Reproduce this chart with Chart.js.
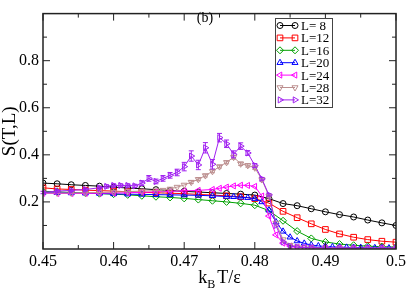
<!DOCTYPE html>
<html>
<head>
<meta charset="utf-8">
<script src="https://cdn.jsdelivr.net/npm/chart.js@4/dist/chart.umd.min.js"></script>
<style>
  html, body { margin: 0; padding: 0; background: #fff; }
</style>
</head>
<body>
<canvas id="grafico" width="409" height="290"></canvas>
<script>
const etiquetas = ["L= 8", "L=12", "L=16", "L=20", "L=24", "L=28", "L=32"];
const xTicks = [0.45, 0.46, 0.47, 0.48, 0.49, 0.5];
const xMenores = [0.455, 0.465, 0.475, 0.485, 0.495];
const yTicks = [0.2, 0.4, 0.6, 0.8];
const yMenores = [0.1, 0.3, 0.5, 0.7, 0.9];

const T8 = [0.450,0.452,0.454,0.456,0.458,0.460,0.462,0.464,0.466,0.468,0.470,0.472,0.474,0.476,0.478,0.480,0.482,0.484,0.486,0.488,0.490,0.492,0.494,0.496,0.498,0.500];
const S8 = [0.280,0.277,0.273,0.270,0.267,0.263,0.259,0.256,0.252,0.248,0.245,0.242,0.239,0.236,0.233,0.229,0.214,0.193,0.184,0.171,0.158,0.146,0.136,0.123,0.111,0.100];

const T12 = T8;
const S12 = [0.260,0.255,0.253,0.250,0.248,0.246,0.243,0.241,0.239,0.237,0.235,0.232,0.229,0.226,0.222,0.214,0.195,0.160,0.133,0.107,0.083,0.064,0.050,0.040,0.033,0.029];

const T16 = T8;
const S16 = [0.245,0.243,0.240,0.238,0.235,0.233,0.230,0.226,0.222,0.219,0.215,0.210,0.205,0.200,0.194,0.186,0.163,0.120,0.076,0.045,0.030,0.021,0.016,0.012,0.010,0.008];

const T20 = [0.450,0.452,0.454,0.456,0.458,0.460,0.462,0.464,0.466,0.468,0.470,0.472,0.474,0.476,0.477,0.478,0.479,0.480,0.481,0.482,0.483,0.484,0.485,0.486,0.487,0.488,0.489,0.490,0.491,0.492,0.493,0.494,0.495,0.496,0.497,0.498,0.499,0.500];
const S20 = [0.240,0.239,0.238,0.237,0.236,0.234,0.233,0.232,0.231,0.230,0.229,0.228,0.226,0.223,0.222,0.220,0.218,0.214,0.200,0.165,0.115,0.075,0.050,0.034,0.024,0.017,0.013,0.011,0.009,0.008,0.007,0.006,0.006,0.005,0.005,0.005,0.004,0.004];

const T24 = [0.450,0.452,0.454,0.456,0.458,0.460,0.462,0.464,0.466,0.468,0.470,0.472,0.474,0.475,0.476,0.477,0.478,0.479,0.480,0.481,0.482,0.483,0.484,0.485,0.486,0.487,0.488,0.490,0.492,0.494,0.496,0.498,0.500];
const S24 = [0.237,0.236,0.236,0.236,0.237,0.238,0.239,0.241,0.243,0.245,0.247,0.249,0.253,0.258,0.263,0.268,0.271,0.270,0.266,0.225,0.140,0.060,0.025,0.013,0.008,0.006,0.005,0.004,0.004,0.003,0.003,0.003,0.003];

const T28 = [0.450,0.452,0.454,0.456,0.458,0.460,0.462,0.464,0.466,0.467,0.468,0.469,0.470,0.471,0.472,0.473,0.474,0.475,0.476,0.477,0.478,0.479,0.480,0.481,0.482,0.483,0.484,0.485,0.486,0.487,0.488,0.490,0.492,0.494,0.496,0.498,0.500];
const S28 = [0.238,0.238,0.238,0.239,0.240,0.242,0.244,0.246,0.248,0.250,0.255,0.263,0.272,0.284,0.296,0.312,0.330,0.350,0.368,0.390,0.362,0.355,0.345,0.295,0.225,0.110,0.040,0.016,0.009,0.006,0.005,0.004,0.004,0.003,0.003,0.003,0.003];
const E28 = [0.003,0.003,0.003,0.003,0.003,0.003,0.003,0.003,0.003,0.004,0.004,0.004,0.004,0.006,0.006,0.006,0.006,0.006,0.006,0.008,0.007,0.007,0.007,0.006,0.005,0.002,0.002,0.002,0.002,0.002,0.002,0.002,0.002,0.002,0.002,0.002,0.002];

const T32 = [0.450,0.452,0.454,0.456,0.458,0.459,0.460,0.461,0.462,0.463,0.464,0.465,0.466,0.467,0.468,0.469,0.470,0.471,0.472,0.473,0.474,0.475,0.476,0.477,0.478,0.479,0.480,0.481,0.482,0.483,0.484,0.485,0.486,0.487,0.488,0.490,0.492,0.494,0.496,0.498,0.500];
const S32 = [0.240,0.246,0.249,0.253,0.260,0.266,0.270,0.270,0.270,0.268,0.280,0.300,0.287,0.300,0.313,0.325,0.350,0.395,0.357,0.430,0.360,0.473,0.447,0.402,0.437,0.408,0.355,0.298,0.230,0.100,0.030,0.012,0.008,0.006,0.005,0.005,0.004,0.004,0.004,0.004,0.004];
const E32 = [0.005,0.005,0.005,0.005,0.005,0.007,0.007,0.007,0.007,0.007,0.010,0.012,0.010,0.012,0.012,0.014,0.018,0.022,0.020,0.022,0.020,0.018,0.016,0.015,0.014,0.010,0.008,0.006,0.005,0.004,0.003,0.003,0.003,0.003,0.003,0.002,0.002,0.002,0.002,0.002,0.002];

// Estilos
const colores = ["#000000", "#ff0000", "#00a000", "#0000ff", "#ff00ff", "#bc8f8f", "#a020f0"];
const marcadores = ["circle", "rect", "rectRot", "triangle", "triangle", "triangle", "triangle"];
const rotaciones = [0, 0, 0, 0, -90, 180, 90];
const radios = [3, 4, 3.5, 3.5, 3.5, 3.5, 3.5];

const series = [[T8, S8], [T12, S12], [T16, S16], [T20, S20], [T24, S24], [T28, S28, E28], [T32, S32, E32]];

const datasets = series.map((s, i) => ({
  label: etiquetas[i],
  data: s[0].map((t, k) => ({ x: t, y: s[1][k] })),
  errores: s[2] || null,
  borderColor: colores[i],
  borderWidth: 1,
  pointStyle: marcadores[i],
  pointRotation: rotaciones[i],
  pointRadius: radios[i],
  pointBorderColor: colores[i],
  pointBackgroundColor: "rgba(0,0,0,0)",
  pointBorderWidth: 1,
  tension: 0,
  order: 7 - i
}));

const fuenteSerif = "'Liberation Serif', 'DejaVu Serif', serif";

// Barras de error (sobre las escalas del grafico)
const barrasError = {
  id: "barrasError",
  afterDatasetsDraw(chart) {
    const ctx = chart.ctx;
    const y = chart.scales.y;
    chart.data.datasets.forEach((ds, i) => {
      if (!ds.errores) return;
      const meta = chart.getDatasetMeta(i);
      ctx.save();
      ctx.strokeStyle = ds.borderColor;
      ctx.lineWidth = 1;
      meta.data.forEach((p, k) => {
        const v = ds.data[k].y, e = ds.errores[k];
        const y1 = y.getPixelForValue(v + e), y2 = y.getPixelForValue(v - e);
        if (y2 - y1 < 2) return;
        ctx.beginPath();
        ctx.moveTo(p.x, y1); ctx.lineTo(p.x, y2);
        ctx.moveTo(p.x - 2.5, y1); ctx.lineTo(p.x + 2.5, y1);
        ctx.moveTo(p.x - 2.5, y2); ctx.lineTo(p.x + 2.5, y2);
        ctx.stroke();
      });
      ctx.restore();
    });
  }
};

// Marco, ticks hacia dentro, titulos y leyenda
const marco = {
  id: "marco",
  afterDraw(chart) {
    const { ctx, chartArea: a, scales: { x, y } } = chart;
    ctx.save();
    ctx.strokeStyle = "#222";
    ctx.lineWidth = 1.5;
    ctx.strokeRect(a.left, a.top, a.right - a.left, a.bottom - a.top);

    ctx.lineWidth = 1;
    ctx.beginPath();
    const tx = (v, len) => {
      const px = x.getPixelForValue(v);
      ctx.moveTo(px, a.bottom); ctx.lineTo(px, a.bottom - len);
      ctx.moveTo(px, a.top); ctx.lineTo(px, a.top + len);
    };
    const ty = (v, len) => {
      const py = y.getPixelForValue(v);
      ctx.moveTo(a.left, py); ctx.lineTo(a.left + len, py);
      ctx.moveTo(a.right, py); ctx.lineTo(a.right - len, py);
    };
    xTicks.forEach(v => tx(v, 7));
    xMenores.forEach(v => tx(v, 4));
    yTicks.forEach(v => ty(v, 7));
    yMenores.forEach(v => ty(v, 4));
    ctx.stroke();

    // titulo eje y
    ctx.fillStyle = "#000";
    ctx.save();
    ctx.translate(10, (a.top + a.bottom) / 2);
    ctx.rotate(-Math.PI / 2);
    ctx.font = "19px " + fuenteSerif;
    ctx.textAlign = "center";
    ctx.textBaseline = "middle";
    ctx.fillText("S(T,L)", 0, 0);
    ctx.restore();

    // titulo eje x: kB T/ε
    ctx.textBaseline = "alphabetic";
    ctx.textAlign = "left";
    const fPrin = "18px " + fuenteSerif, fSub = "12px " + fuenteSerif;
    ctx.font = fPrin; const wk = ctx.measureText("k").width;
    const wt = ctx.measureText("T/ε").width;
    ctx.font = fSub; const wb = ctx.measureText("B").width;
    let cx = (a.left + a.right) / 2 - (wk + wb + 2 + wt) / 2;
    const base = 283;
    ctx.font = fPrin; ctx.fillText("k", cx, base); cx += wk;
    ctx.font = fSub; ctx.fillText("B", cx, base + 5); cx += wb + 2;
    ctx.font = fPrin; ctx.fillText("T/ε", cx, base);

    // etiqueta del panel
    ctx.font = "14px " + fuenteSerif;
    ctx.textAlign = "center";
    ctx.textBaseline = "middle";
    ctx.fillText("(b)", 205, 18);

    // leyenda
    const lx = 275, ly = 18, lw = 57, lh = 89;
    ctx.fillStyle = "#fff";
    ctx.fillRect(lx, ly, lw, lh);
    ctx.strokeStyle = "#444";
    ctx.lineWidth = 1;
    ctx.strokeRect(lx + 0.5, ly + 0.5, lw, lh);
    chart.data.datasets.forEach((ds, i) => {
      const fy = ly + 7.5 + i * 12.4;
      ctx.strokeStyle = ds.borderColor;
      ctx.fillStyle = "rgba(0,0,0,0)";
      ctx.lineWidth = 1;
      ctx.beginPath();
      ctx.moveTo(280, fy); ctx.lineTo(295, fy);
      ctx.stroke();
      [280, 295].forEach(px => {
        Chart.helpers.drawPoint(ctx, {
          pointStyle: ds.pointStyle, radius: ds.pointRadius,
          rotation: ds.pointRotation, borderWidth: 1
        }, px, fy);
      });
      ctx.fillStyle = "#000";
      ctx.font = "13px " + fuenteSerif;
      ctx.textAlign = "left";
      ctx.textBaseline = "middle";
      ctx.fillText(ds.label, 301, fy + 1);
    });
    ctx.restore();
  }
};

new Chart(document.getElementById("grafico"), {
  type: "line",
  data: { datasets },
  options: {
    responsive: false,
    devicePixelRatio: 1,
    animation: false,
    events: [],
    layout: { padding: { top: 1, right: 10, left: 0, bottom: 0 } },
    plugins: { legend: { display: false }, tooltip: { enabled: false } },
    scales: {
      x: {
        type: "linear",
        min: 0.45,
        max: 0.5,
        afterBuildTicks: s => { s.ticks = xTicks.map(v => ({ value: v })); },
        afterFit: s => { s.height = 41; },
        ticks: {
          callback: v => String(v),
          font: { family: fuenteSerif, size: 16 },
          color: "#000",
          padding: 3,
          maxRotation: 0,
          autoSkip: false
        },
        grid: { drawOnChartArea: false, drawTicks: false },
        border: { display: false }
      },
      y: {
        type: "linear",
        min: 0,
        max: 1,
        afterBuildTicks: s => { s.ticks = yTicks.map(v => ({ value: v })); },
        afterFit: s => { s.width = 43; },
        ticks: {
          callback: v => String(v),
          font: { family: fuenteSerif, size: 16 },
          color: "#000",
          padding: 4
        },
        grid: { drawOnChartArea: false, drawTicks: false },
        border: { display: false }
      }
    }
  },
  plugins: [barrasError, marco]
});
</script>
</body>
</html>
